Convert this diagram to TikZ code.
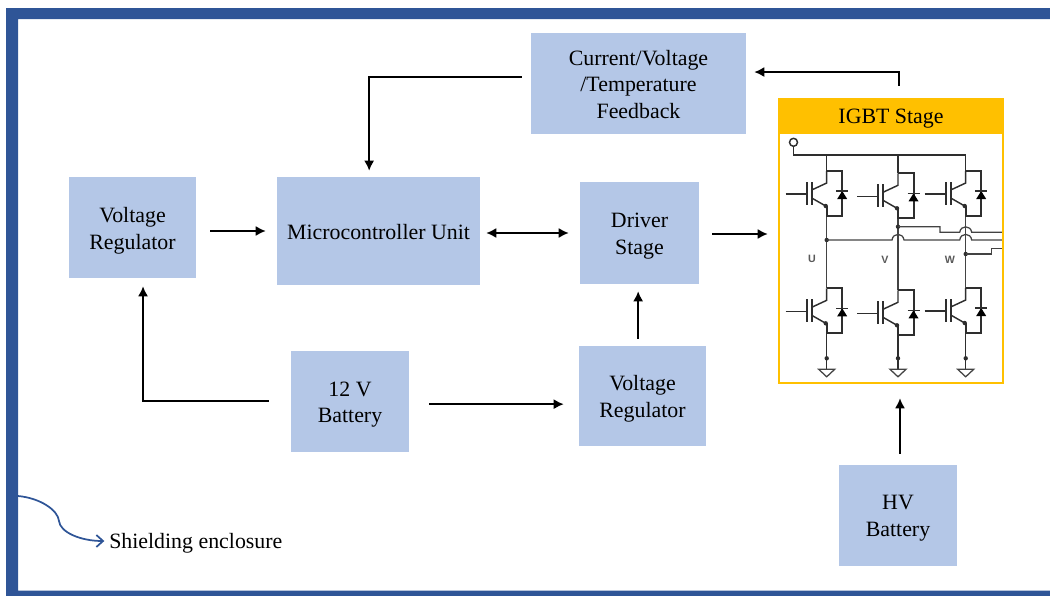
\documentclass[tikz,border=0pt]{standalone}
\usepackage{fontspec}
\usepackage{xcolor}
\setmainfont{Liberation Serif}
\setsansfont{Liberation Sans}
\usetikzlibrary{arrows.meta}
\definecolor{boxblue}{HTML}{B4C7E7}
\definecolor{navy}{HTML}{2F5597}
\definecolor{amber}{HTML}{FFC000}
\definecolor{wiregray}{HTML}{2E2E2E}
\tikzset{
  blocktext/.style={font=\fontsize{16.4}{20}\selectfont,align=center,inner sep=0pt,yshift=-2.25pt},
  flattext/.style={blocktext,yshift=1.5pt},
  block/.style={fill=boxblue,inner sep=0pt},
  arr/.style={-{Latex[length=7.5pt,width=7.5pt]},line width=1.25pt,black},
  wire/.style={wiregray,line width=1.1pt},
  thinwire/.style={wiregray!90,line width=0.95pt},
  bold wire/.style={wiregray,line width=1.5pt},
  bridgelabel/.style={font=\sffamily\bfseries\fontsize{8}{9}\selectfont,text=black!65,inner sep=0pt},
  igbt/.pic={
    \draw[wire] (0,0) -- (0,12) -- (-15,19);
    \draw[wire] (-15,27) -- (-1,35);
    \fill[wiregray] (-1,35) circle[radius=2.2];
    \draw[bold wire] (-15,11) -- (-15,34);
    \draw[bold wire] (-20,11) -- (-20,34);
    \draw[wire] (-41,23) -- (-20,23);
    \draw[bold wire] (0,0) -- (15.5,0) -- (15.5,45) -- (0,45) -- (0,35);
    \fill[black] (10.5,28) -- (20.5,28) -- (15.5,20) -- cycle;
    \draw[wire] (9.5,20) -- (21.5,20);
  },
  gnd/.pic={
    \fill[wiregray] (0,-11) circle[radius=2.2];
    \draw[thinwire] (-8,0) -- (8,0) -- (0,7.5) -- cycle;
  }
}
\begin{document}
\begin{tikzpicture}[x=0.75pt,y=-0.75pt]
\useasboundingbox (0,0) rectangle (1050,596);
\fill[navy] (6,596) -- (6,8) -- (1050,8) -- (1050,19) -- (18,19) -- (18,590.5) -- (1050,590.5) -- (1050,596) -- cycle;

\node[block,minimum width=161.25pt,minimum height=75.75pt,label={[flattext,name=feedbacktext]center:{Current/Voltage\\/Temperature\\Feedback}}] (feedback) at (638.5,83.5) {};
\node[block,minimum width=95.25pt,minimum height=75.75pt,label={[blocktext,name=vreglefttext]center:{Voltage\\Regulator}}] (vregleft) at (132.5,227.5) {};
\node[block,minimum width=152.25pt,minimum height=81pt,label={[flattext,name=mcutext]center:{Microcontroller Unit}}] (mcu) at (378.5,231) {};
\node[block,minimum width=89.25pt,minimum height=76.5pt,label={[blocktext,name=drivertext]center:{Driver\\Stage}}] (driver) at (639.5,233) {};
\node[block,minimum width=88.5pt,minimum height=75.75pt,label={[blocktext,name=batterytext]center:{12 V\\Battery}}] (battery) at (350,401.5) {};
\node[block,minimum width=95.25pt,minimum height=75pt,label={[blocktext,name=vregrighttext]center:{Voltage\\Regulator}}] (vregright) at (642.5,396) {};
\node[block,minimum width=88.5pt,minimum height=75.75pt,label={[blocktext,name=hvbatterytext]center:{HV\\Battery}}] (hvbattery) at (898,515.5) {};

% IGBT bridge
\draw[wire] (793.5,142.3) circle[radius=4];
\draw[wire] (793.5,146.3) -- (793.5,155) -- (965.7,155);
\foreach \colx/\topa/\bota/\topb/\botb in {826.7/171/216/288.3/333,898/173.3/218.3/290.3/335.3,965.7/171/216/288/333}{
  \draw[wire] (\colx,155) -- (\colx,\topa);
  \draw[thinwire] (\colx,\bota) -- (\colx,\topb);
  \draw[wire] (\colx,\botb) -- (\colx,369.3);
  \pic at (\colx,\topa) {igbt};
  \pic at (\colx,\topb) {igbt};
  \pic at (\colx,369.3) {gnd};
}
\fill[wiregray] (826.7,240) circle[radius=2.2] (898,226.7) circle[radius=2.2] (965.7,254) circle[radius=2.2];
\draw[thinwire] (826.7,240) -- (892,240) .. controls (893,232.5) and (903,232.5) .. (904,240) -- (959.7,240) .. controls (960.7,232.5) and (970.7,232.5) .. (971.7,240) -- (1002,240);
\draw[thinwire] (898,226.7) -- (940,226.7) -- (940,232.3) -- (959.7,232.3) .. controls (960.7,225) and (970.7,225) .. (971.7,232.3) -- (1002,232.3);
\draw[thinwire] (965.7,254) -- (991.7,254) -- (991.7,248.3) -- (1002,248.3);
\node[bridgelabel] (labelu) at (812,259) {U};
\node[bridgelabel] (labelv) at (885,259.6) {V};
\node[bridgelabel] (labelw) at (950,259.6) {W};

\node[draw=amber,line width=1.9pt,minimum width=168pt,minimum height=187.5pt,inner sep=0pt] (igbtframe) at (891,258) {};
\node[block,fill=amber,minimum width=169.5pt,minimum height=26.25pt,label={[blocktext,name=igbttext]center:{IGBT Stage}}] (igbthead) at (891,115.5) {};

\draw[arr,shorten <=10.5pt,shorten >=8.25pt] (vregleft.east |- mcu.west) -- (mcu.west);
\draw[arr,{Latex[length=7.5pt,width=7.5pt]}-{Latex[length=7.5pt,width=7.5pt]},shorten <=4.5pt,shorten >=8.25pt] (mcu.east |- driver.west) -- (driver.west);
\draw[arr,shorten <=9.75pt,shorten >=7.5pt] ([yshift=-0.75pt]driver.east) -- ([yshift=-0.75pt]driver.east -| igbtframe.west);
\draw[arr,shorten <=6.75pt,shorten >=4.5pt] ([yshift=4.9pt]feedback.west) -| ([xshift=-7pt]mcu.north);
\draw[arr,shorten <=9pt,shorten >=6pt] ([xshift=6pt]igbthead.north) |- ([yshift=8.6pt]feedback.east);
\draw[arr,shorten <=16.5pt,shorten >=6pt] ([yshift=0.4pt]battery.west) -| ([xshift=7.9pt]vregleft.south);
\draw[arr,shorten <=15pt,shorten >=11.25pt] ([yshift=-2pt]battery.east) -- ([yshift=-2pt]battery.east -| vregright.west);
\draw[arr,shorten <=5.25pt,shorten >=5.25pt] ([xshift=-1pt]driver.south |- vregright.north) -- ([xshift=-1pt]driver.south);
\draw[arr,shorten <=8.25pt,shorten >=10.5pt] ([xshift=1.5pt]hvbattery.north) -- ([xshift=1.5pt]hvbattery.north |- igbtframe.south);

\node[blocktext,anchor=west] (shieldlabel) at (109,540) {Shielding enclosure};
\coordinate (shieldstart) at (18,496);
\draw[navy,line width=1.3pt,-{Straight Barb[length=5pt,width=9pt]},shorten >=3.5pt] (shieldstart) .. controls (40,498) and (58,510) .. (59,521) .. controls (60,532) and (80,541) .. ([yshift=1.5pt]shieldlabel.west);
\end{tikzpicture}
\end{document}
